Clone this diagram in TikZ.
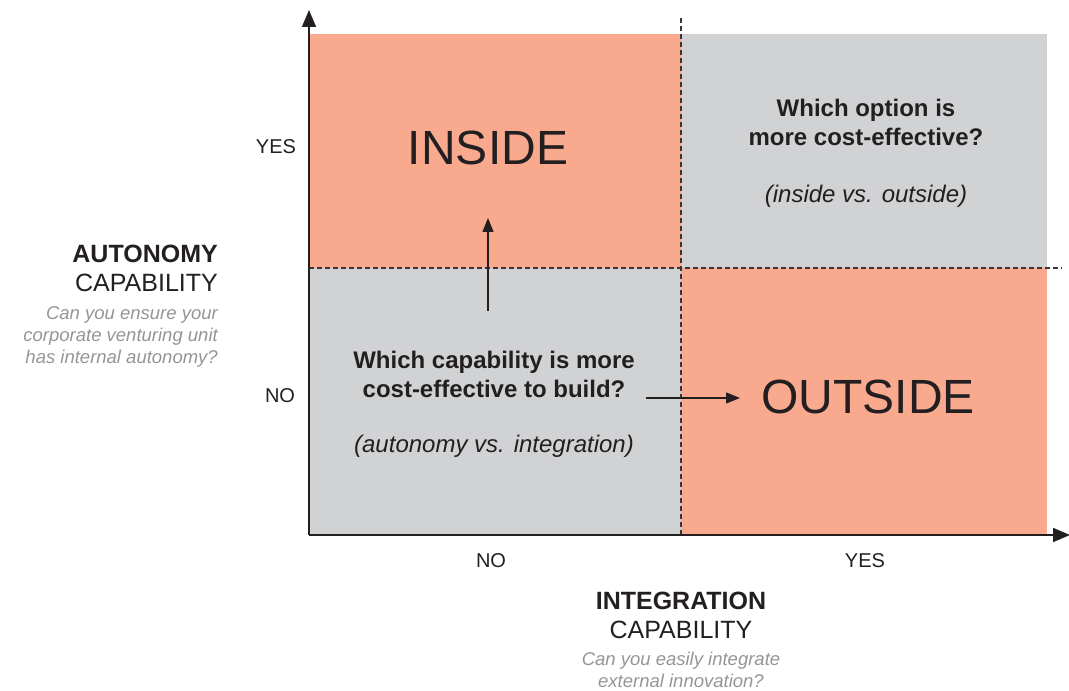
\documentclass[tikz,border=0pt]{standalone}
\usepackage{fontspec}
\setmainfont{Liberation Sans}
\usetikzlibrary{arrows.meta}

\definecolor{salmon}{HTML}{F8A98E}
\definecolor{quadgray}{HTML}{D1D2D4}
\definecolor{ink}{HTML}{231F20}
\definecolor{hintgray}{HTML}{939598}

\begin{document}
\begin{tikzpicture}[x=1pt, y=1pt,
    >={Triangle[length=17pt,width=14pt]},
    axis/.style={->, line width=1.6pt, draw=ink},
    divider/.style={dash pattern=on 5pt off 3pt, line width=1.1pt, draw=ink!90},
    edge/.style={-{Triangle[length=14pt,width=11pt]}, line width=1.3pt, draw=ink},
    tick/.style={inner sep=0pt, text=ink, font=\fontsize{20}{24}\selectfont},
    verdict/.style={inner sep=0pt, text=ink, font=\fontsize{48}{56}\selectfont},
    ask/.style={inner sep=0pt, text=ink, align=center, font=\fontsize{24}{29}\selectfont\bfseries},
    aside/.style={inner sep=0pt, text=ink, font=\fontsize{24}{28}\selectfont\itshape},
    axtitle/.style={inner sep=0pt, text=ink, font=\fontsize{25}{28.5}\selectfont},
    hint/.style={inner sep=0pt, text=hintgray, font=\fontsize{18.5}{22}\selectfont\itshape}]

  \useasboundingbox (0,0) rectangle (1069,691);

  % frame of the matrix
  \coordinate (o)    at (309,156);
  \coordinate (ytip) at (309,681);
  \coordinate (xtip) at (1070,156);
  \coordinate (mid)  at (681,423);

  % quadrants
  \fill[salmon]   (310,423) rectangle (681,657);
  \fill[quadgray] (681,423) rectangle (1047,657);
  \fill[quadgray] (310,156) rectangle (681,423);
  \fill[salmon]   (681,156) rectangle (1047,423);

  \draw[divider] (681,673) -- (681,156);
  \draw[divider] (309,423) -- (1062,423);

  \draw[axis] (o) -- (ytip);
  \draw[axis] (o) -- (xtip);

  % axis ticks
  \node[tick] (yyes) at (276,544) {YES};
  \node[tick] (yno)  at (280,295) {NO};
  \node[tick] (xno)  at (491,130) {NO};
  \node[tick] (xyes) at (865,130) {YES};

  % axis titles
  \node[axtitle, align=right, anchor=north east] (autonomy) at (218,446)
    {\textbf{AUTONOMY}\\CAPABILITY};
  \node[hint, align=right, anchor=north east] (autoq) at (218,385)
    {Can you ensure your\\corporate venturing unit\\has internal autonomy?};
  \node[axtitle, align=center, anchor=north] (integration) at (681,99)
    {\textbf{INTEGRATION}\\CAPABILITY};
  \node[hint, align=center, anchor=north] (integq) at (681,39)
    {Can you easily integrate\\external innovation?};

  % quadrant contents
  \node[verdict] (inside)  at (488,543) {INSIDE};
  \node[verdict] (outside) at (868,294) {OUTSIDE};

  \node[ask, anchor=north] (option) at (866,592)
    {Which option is\\more cost-effective?};
  \node[aside] (optvs) at (866,495) {(inside vs. outside)};

  \node[ask, anchor=north] (build) at (494,340)
    {Which capability is more\\cost-effective to build?};
  \node[aside] (buildvs) at (494,245) {(autonomy vs. integration)};

  \coordinate (upfrom)    at (488,380);
  \coordinate (upto)      at (488,473);
  \coordinate (rightfrom) at (646,293);
  \coordinate (rightto)   at (740,293);

  \draw[edge] (upfrom) -- (upto);
  \draw[edge] (rightfrom) -- (rightto);
\end{tikzpicture}
\end{document}
